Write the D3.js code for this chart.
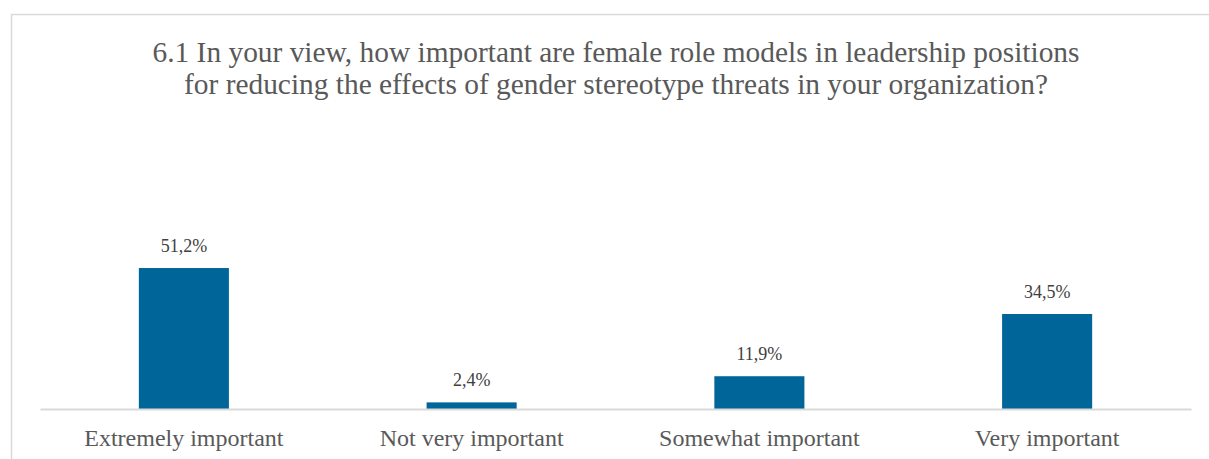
<!DOCTYPE html>
<html>
<head>
<meta charset="utf-8">
<script src="https://cdn.jsdelivr.net/npm/d3@7"></script>
<style>
    body { margin: 0; background: #fff; }
    svg { display: block; }
    .title { font-family: "Liberation Serif", "Times New Roman", serif; font-size: 29.4px; fill: #595959; }
    .catLabel { font-family: "Liberation Serif", "Times New Roman", serif; font-size: 24px; fill: #595959; }
    .valLabel { font-family: "Liberation Serif", "Times New Roman", serif; font-size: 18px; fill: #404040; }
</style>
</head>
<body>
<script>
// Chart data.
var categories = ['Extremely important', 'Not very important', 'Somewhat important', 'Very important'];
var values = [51.2, 2.4, 11.9, 34.5];
var valueLabels = ['51,2%', '2,4%', '11,9%', '34,5%'];
var titleLines = [
    '6.1 In your view, how important are female role models in leadership positions',
    'for reducing the effects of gender stereotype threats in your organization?'
];

var width = 1209,
    height = 459,
    plot = { left: 40, right: 1191, bottom: 409 };

var svg = d3.select( 'body' )
    .append( 'svg' )
    .attr( 'width', width )
    .attr( 'height', height );

// Chart area frame (right/bottom edges fall outside the picture).
svg.append( 'rect' )
    .attr( 'x', 11.5 )
    .attr( 'y', 14.5 )
    .attr( 'width', 1220 )
    .attr( 'height', 470 )
    .attr( 'fill', 'none' )
    .attr( 'stroke', '#d9d9d9' )
    .attr( 'stroke-width', 1.5 );

// Title.
svg.append( 'text' )
    .attr( 'class', 'title' )
    .attr( 'text-anchor', 'middle' )
    .selectAll( 'tspan' )
    .data( titleLines )
    .join( 'tspan' )
    .attr( 'x', 616 )
    .attr( 'y', ( d, i ) => 61.5 + i * 32 )
    .text( d => d );

var x = d3.scaleBand()
    .domain( categories )
    .range( [plot.left, plot.right] )
    .paddingInner( 0.687 )
    .paddingOuter( 0.3435 );

var y = d3.scaleLinear()
    .domain( [0, 60] )
    .range( [plot.bottom, plot.bottom - 165.2] );

var data = categories.map( ( c, i ) => ( { cat: c, value: values[i], label: valueLabels[i] } ) );

// Bars.
svg.append( 'g' )
    .selectAll( 'rect' )
    .data( data )
    .join( 'rect' )
    .attr( 'x', d => x( d.cat ) )
    .attr( 'y', d => y( d.value ) )
    .attr( 'width', x.bandwidth() )
    .attr( 'height', d => y( 0 ) - y( d.value ) )
    .attr( 'fill', '#006598' );

// Value labels.
svg.append( 'g' )
    .selectAll( 'text' )
    .data( data )
    .join( 'text' )
    .attr( 'class', 'valLabel' )
    .attr( 'text-anchor', 'middle' )
    .attr( 'x', d => x( d.cat ) + x.bandwidth() / 2 )
    .attr( 'y', d => y( d.value ) - 16 )
    .text( d => d.label );

// Category axis.
var axis = svg.append( 'g' )
    .attr( 'transform', 'translate(0,' + plot.bottom + ')' )
    .call( d3.axisBottom( x ).tickSize( 0 ).tickPadding( 0 ) );

axis.select( '.domain' )
    .attr( 'stroke', '#d9d9d9' )
    .attr( 'stroke-width', 2 );

axis.selectAll( '.tick text' )
    .attr( 'class', 'catLabel' )
    .attr( 'dy', null )
    .attr( 'y', 37 )
    .attr( 'fill', null );
axis.attr( 'font-family', null ).attr( 'font-size', null );
</script>
</body>
</html>
